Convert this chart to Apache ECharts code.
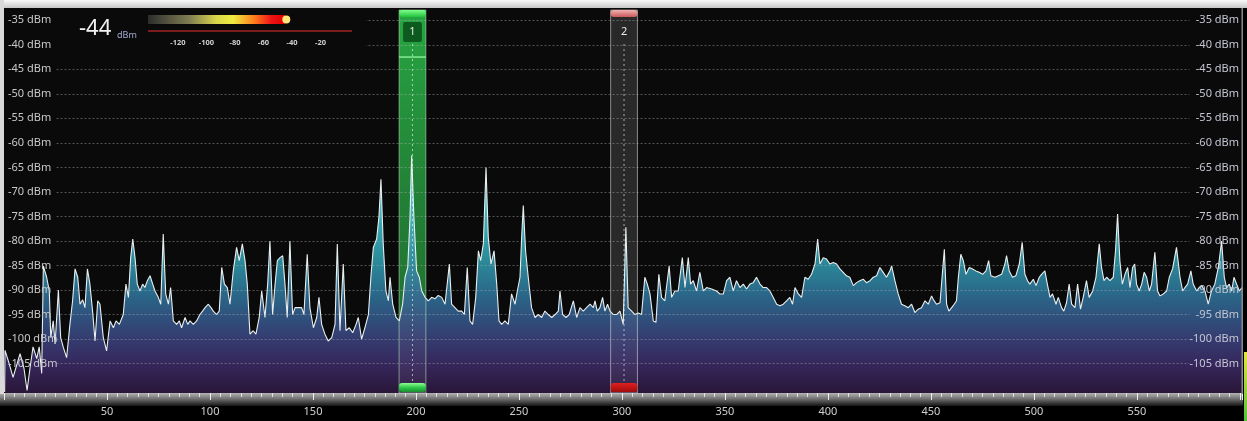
<!DOCTYPE html>
<html><head><meta charset="utf-8">
<script src="https://cdn.jsdelivr.net/npm/echarts@6/dist/echarts.min.js"></script>
<style>html,body{margin:0;padding:0;background:#000;overflow:hidden}#c{width:1247px;height:421px}</style>
</head><body><div id="c"></div>
<script>
// ---- data (frequency, level dBm) ----
const spectrumA = [[0.3,-110.8],[0.5,-102.3],[2.5,-105],[4.4,-107.8],[7.8,-103],[9.7,-106],[11.2,-110.5],[12.6,-106],[14.1,-101.6],[15.9,-104],[17.1,-101.6],[18.3,-107],[19.1,-85.1],[20.7,-87.4],[22.0,-90.2],[22.7,-99.7],[23.9,-96.3],[24.8,-101],[26.4,-90],[27.5,-99.7],[28.8,-101.7],[30.4,-103.8],[32.0,-97],[33.3,-92.2],[34.5,-85.7],[35.8,-87.4],[36.9,-92.9],[38.2,-92],[39.3,-93.6],[40.5,-85.7],[41.7,-88.8],[43.0,-94.3],[44.2,-100.4],[45.5,-92.2],[46.6,-92.9],[48.2,-99.7],[49.8,-102.4],[51.5,-96.3],[53.1,-97.7],[54.4,-96.3],[56.0,-97],[57.9,-95],[59.2,-88.8],[60.4,-91.5],[61.5,-83.4],[62.5,-79.6],[63.6,-83.4],[64.7,-88.8],[66.0,-90.2],[67.3,-88.8],[68.4,-89.5],[69.6,-88.1],[70.9,-87.1],[72.2,-88.8],[73.3,-90.2],[74.9,-91.5],[76.1,-92.9],[77.3,-78.6],[78.5,-90.8],[79.8,-92.9],[80.9,-89.5],[82.2,-96.3],[83.8,-97],[85.1,-96.3],[86.2,-97.7],[87.9,-95.6],[89.2,-97],[90.3,-96.3],[91.9,-97],[93.5,-96.3],[95.1,-95],[96.4,-94.3],[97.6,-93.6],[99.2,-92.9],[100.5,-93.6],[101.6,-94.3],[103.2,-95],[104.5,-94.3],[105.7,-85.4],[107.0,-88.8],[108.4,-89.5],[109.7,-92.9],[111.3,-86.1],[112.9,-81.3],[114.2,-84],[115.7,-80.6],[117.0,-84],[118.1,-88.8],[119.4,-99],[121.0,-98.3],[122.3,-99],[123.9,-95.6],[125.1,-90.2],[126.7,-95.6],[128.0,-88.8],[129.1,-80],[130.4,-95],[131.6,-88.8],[132.7,-84],[134.0,-83.4],[135.3,-83],[136.4,-88.8],[137.5,-95.6],[138.8,-80],[140.1,-95],[141.3,-93.6],[142.9,-93.6],[144.5,-93.6],[145.6,-95],[147.2,-82.7],[148.5,-93.6],[150.2,-97.7],[151.8,-95.6],[152.9,-91.5]];
const spectrumB = [[154.2,-97],[155.8,-99],[157.4,-100.4],[159.1,-99.7],[160.7,-97],[161.8,-80.6],[163.1,-98.3],[164.7,-84.7],[166.0,-98.3],[167.6,-97.7],[169.3,-98.7],[170.9,-97],[172.0,-95.6],[173.6,-100],[175.2,-97.7],[176.9,-95],[178.2,-86.8],[179.3,-81.3],[180.9,-79.6],[182.0,-75.2],[183.0,-67.4],[184.1,-80.6],[185.4,-90.2],[186.6,-92.2],[187.4,-87.4],[188.7,-92.9],[190.3,-95.6],[191.9,-96.3],[193.5,-92.9],[194.7,-87.4],[196.0,-85.4],[197.1,-75.2],[197.9,-62.6],[199.0,-75.2],[200.3,-86.1],[201.6,-87.4],[202.8,-90.2],[204.4,-91.5],[206.0,-92.2],[207.6,-91.5],[209.2,-91.8],[210.8,-91.1],[212.5,-91.5],[214.1,-92.9],[216.2,-84.7],[217.3,-92.9],[218.9,-93.6],[220.5,-94.3],[222.2,-94.3],[223.5,-95],[224.9,-85.4],[226.2,-96.3],[227.5,-97],[229.0,-91.5],[230.3,-82],[231.4,-84],[232.7,-80.6],[234.0,-65],[235.1,-79.3],[236.4,-84.7],[237.9,-82],[239.2,-88.8],[240.3,-96.3],[241.6,-97],[243.2,-96.3],[244.8,-97],[246.4,-90.8],[248.1,-92.9],[249.2,-90.2],[250.5,-87.4],[251.3,-79.3],[252.1,-72.8],[253.2,-82],[254.5,-87.4],[256.1,-93.6],[257.8,-95.6],[259.4,-95],[261.0,-95.6],[262.6,-94.3],[264.2,-95],[265.9,-95.6],[267.5,-95],[269.1,-94.3],[269.9,-90.2],[271.2,-95],[272.8,-95.6],[274.4,-95],[276.4,-92.2],[278.0,-95.6],[279.6,-93.6],[281.2,-94.3],[282.8,-93.6],[284.5,-92.9],[286.1,-93.6],[286.9,-92.2],[288.0,-94.3],[289.3,-93.6],[290.6,-91.5],[291.7,-94.3],[293.0,-92.9],[294.2,-94.3],[295.8,-95],[297.4,-95],[299.0,-94.3],[300.6,-97],[301.9,-77.2]];
const spectrumC = [[303.0,-93.6],[304.7,-94.3],[306.3,-95],[307.9,-94.7],[309.5,-95],[311.1,-87.4],[312.3,-88.8],[313.6,-90.8],[315.2,-96.3],[316.5,-96.6],[317.9,-86.8],[319.2,-91.5],[320.8,-92.2],[322.9,-85.1],[324.1,-91.5],[325.7,-90.2],[327.3,-90.2],[329.3,-83.4],[330.6,-89.5],[332.2,-83.4],[333.3,-88.8],[334.6,-88.1],[336.2,-90.2],[337.8,-86.4],[339.5,-90.2],[341.1,-89.5],[343.5,-89.8],[345.9,-90.2],[347.5,-90.8],[349.2,-90.8],[350.8,-88.1],[352.4,-87.4],[354.0,-90.2],[355.6,-88.1],[357.3,-89.5],[358.9,-88.8],[360.5,-89.8],[362.1,-88.8],[363.7,-88.5],[365.3,-87.4],[367.0,-88.8],[368.6,-89.5],[370.2,-89.5],[371.8,-90.2],[373.4,-91.5],[375.1,-92.9],[376.7,-93.2],[378.3,-92.9],[379.9,-92.2],[381.5,-91.5],[382.8,-92.9],[384.0,-89.5],[385.6,-90.8],[387.2,-91.5],[388.8,-87.4],[390.4,-87.8],[392.0,-86.8],[393.7,-84.7],[395.0,-79.6],[396.1,-84.7],[397.7,-83.4],[399.3,-83.7],[400.9,-84.7],[402.6,-84.4],[404.2,-84.7],[405.8,-85.7],[407.4,-86.4],[409.0,-87.1],[410.6,-87.4],[412.3,-89.1],[413.9,-88.5],[415.5,-88.1],[417.1,-87.8],[418.7,-88.5],[420.4,-88.1],[422.0,-87.4],[423.6,-87.1],[425.2,-85.4],[426.8,-86.4],[428.4,-87.4],[430.1,-86.1],[430.9,-85.1],[432.5,-88.1],[434.1,-90.8],[435.7,-92.9],[437.3,-93.2],[439.0,-93.6],[440.6,-92.9],[442.2,-94.6],[443.8,-93.9],[445.4,-93.6],[447.1,-92.2],[448.7,-92.9],[450.3,-91.2]];
const spectrumD = [[451.1,-91.9],[452.7,-92.9],[454.4,-92.6],[456.5,-81.7],[457.6,-92.9],[458.7,-94.3],[460.8,-93.2],[462.4,-92.2],[463.3,-87.4],[464.5,-82.7],[465.7,-84],[467.0,-86.8],[468.6,-85.4],[470.2,-85.7],[471.8,-86.1],[473.4,-86.4],[475.1,-86.8],[476.7,-86.1],[478.0,-84],[479.1,-87.1],[481.1,-87.4],[482.7,-87.1],[484.3,-86.8],[485.9,-84.7],[486.7,-83],[488.0,-86.1],[489.6,-87.4],[491.2,-87.1],[492.9,-84.7],[494.3,-80.3],[495.6,-86.8],[496.9,-88.1],[498.0,-88.8],[499.7,-87.8],[501.0,-89.1],[502.6,-87.4],[503.7,-86.8],[505.3,-86.1],[506.5,-88.8],[507.8,-91.5],[509.0,-90.8],[510.7,-92.9],[511.8,-91.5],[513.4,-93.6],[514.5,-94.3],[515.8,-92.6],[517.1,-88.8],[518.3,-92.9],[519.9,-93.6],[521.2,-88.8],[522.6,-93.9],[523.9,-91.5],[525.5,-88.1],[526.8,-91.5],[528.5,-90.2],[530.1,-87.4],[531.7,-80.6],[532.8,-85.4],[534.0,-88.1],[535.3,-87.4],[536.9,-88.1],[538.5,-87.4],[539.6,-82],[540.6,-74.5],[541.7,-84],[542.9,-88.8],[544.2,-86.8],[545.5,-85.4],[546.6,-89.5],[547.9,-85.4],[548.9,-84.7],[549.8,-88.8],[551.1,-90.2],[552.3,-88.8],[553.5,-86.4],[554.7,-87.4],[556.0,-90.2],[557.1,-88.8],[558.7,-82.3],[560.0,-90.2],[561.2,-91.2],[562.8,-90.8],[564.4,-90.2],[565.7,-87.4],[567.3,-85.7],[569.2,-81.3],[570.9,-87.4],[572.2,-90.2],[573.3,-89.5],[574.6,-88.8],[576.2,-86.1],[577.3,-88.8],[579.0,-90.2],[580.2,-89.5],[581.4,-89.1],[583.0,-90.2],[584.6,-92.9],[586.2,-90.2],[587.8,-88.8],[589.5,-85.4],[591.1,-80],[592.4,-87.4],[593.5,-89.5],[594.8,-88.8],[596.0,-90.2],[597.1,-87.4],[598.4,-88.8],[599.7,-90.2],[601.0,-89.5]];
const yTicks = [-35,-40,-45,-50,-55,-60,-65,-70,-75,-80,-85,-90,-95,-100,-105];
const xTicks = [50,100,150,200,250,300,350,400,450,500,550];
const markerCenters = [198.3, 301.0];
const markerNames = ['1','2'];
const markerRefLevel = -42.5;
const currentLevel = -44;
const legendTicks = [-120,-100,-80,-60,-40,-20];

// ---- layout / style ----
const X_MIN = 0, X_MAX = 601, Y_MIN = -111, Y_MAX = -32.5;
const MARKER_HALF = 6.5;
const spectrum = spectrumA.concat(spectrumB, spectrumC, spectrumD);
const FONT = '"Noto Sans", "Open Sans", sans-serif';
const lg = (x, y, x2, y2, stops, global) => ({type:'linear', x, y, x2, y2, global: !!global,
  colorStops: stops.map(s => ({offset: s[0], color: s[1]}))});

function markerBack(params, api) {
  const i = params.dataIndex, c = api.value(0);
  const tl = api.coord([c - MARKER_HALF, Y_MAX]);
  const br = api.coord([c + MARKER_HALF, Y_MIN]);
  const fill = i === 0 ? lg(0,0,0,1,[[0,'rgba(30,175,60,0.92)'],[0.5,'rgba(25,140,50,0.85)'],[1,'rgba(25,120,45,0.8)']])
                       : 'rgba(70,70,70,0.35)';
  return {type:'rect', shape:{x:tl[0], y:tl[1]+2, width:br[0]-tl[0], height:br[1]-tl[1]-2}, style:{fill}};
}
function markerFront(params, api) {
  const i = params.dataIndex, c = api.value(0);
  const tl = api.coord([c - MARKER_HALF, Y_MAX]);
  const br = api.coord([c + MARKER_HALF, Y_MIN]);
  const cx = (tl[0] + br[0]) / 2, w = br[0] - tl[0];
  const green = i === 0;
  const children = [
    {type:'rect', shape:{x:tl[0], y:tl[1]+2, width:w, height:br[1]-tl[1]-2},
     style:{fill:'rgba(255,255,255,0.05)', stroke: green ? 'rgba(190,235,190,0.55)' : 'rgba(215,215,215,0.6)', lineWidth:1}},
    {type:'line', shape:{x1:cx, y1:tl[1]+36, x2:cx, y2:br[1]-11},
     style:{stroke:'rgba(255,255,255,0.6)', lineWidth:1, lineDash:[2,3]}},
    {type:'rect', shape:{x:tl[0], y:tl[1]+2, width:w, height:7, r:3},
     style:{fill: green ? lg(0,0,0,1,[[0,'#7dff8a'],[1,'#22c23e']]) : lg(0,0,0,1,[[0,'#f2b0b0'],[1,'#c85a5a']])}},
    {type:'rect', shape:{x:tl[0], y:br[1]-10, width:w, height:9, r:3},
     style:{fill: green ? lg(0,0,0,1,[[0,'#8dff95'],[0.5,'#2fc84a'],[1,'#1a8f30']]) : lg(0,0,0,1,[[0,'#e02020'],[1,'#a00c0c']])}},
    {type:'rect', shape:{x:tl[0]+4, y:tl[1]+14, width:w-8, height:20, r:2},
     style:{fill: green ? '#0d5a1e' : 'rgba(40,40,40,0.6)'}},
    {type:'text', x:cx, y:tl[1]+24, style:{text: markerNames[i], fill:'#e8e8e8', font:'11px ' + FONT, align:'center', verticalAlign:'middle'}}
  ];
  if (green) {
    const ry = api.coord([c, markerRefLevel])[1];
    children.push({type:'line', shape:{x1:tl[0], y1:ry, x2:br[0], y2:ry}, style:{stroke:'#9dffa8', lineWidth:1.2}});
  }
  return {type:'group', children};
}

const chart = echarts.init(document.getElementById('c'), null, {renderer:'canvas', width:1247, height:421});
const legendX = v => 178 + (v + 120) * 1.425;

chart.setOption({
  backgroundColor: '#000',
  animation: false,
  grid: {left:4, right:5, top:8, bottom:28, show:true, backgroundColor:'#0a0a0a', borderWidth:0},
  xAxis: {
    type:'value', min:X_MIN, max:X_MAX, interval:50, z:6,
    axisLine:{show:false}, splitLine:{show:false},
    axisTick:{show:true, length:7, lineStyle:{color:'rgba(255,255,255,0.85)', width:1}},
    minorTick:{show:true, splitNumber:10, length:4, lineStyle:{color:'rgba(255,255,255,0.7)', width:1}},
    axisLabel:{margin:13, color:'#cfcfcf', fontSize:11, fontFamily:FONT,
      formatter: v => xTicks.includes(v) ? String(v) : ''}
  },
  yAxis: [
    {type:'value', min:Y_MIN, max:Y_MAX, position:'left', z:4,
     axisLine:{show:false}, axisTick:{show:false}, splitLine:{show:false},
     axisLabel:{inside:true, margin:4, color:'#c8c8c8', fontSize:11, fontFamily:FONT,
       customValues: yTicks, formatter: v => v + ' dBm'}},
    {type:'value', min:Y_MIN, max:Y_MAX, position:'right', z:4,
     axisLine:{show:false}, axisTick:{show:false}, splitLine:{show:false},
     axisLabel:{inside:true, margin:3, color:'#c4c6d2', fontSize:11, fontFamily:FONT,
       customValues: yTicks, formatter: v => v + ' dBm'}}
  ],
  series: [
    {type:'custom', coordinateSystem:'cartesian2d', z:1, silent:true, renderItem: markerBack,
     data: markerCenters.map(c => [c, Y_MIN])},
    {type:'line', data: spectrum, showSymbol:false, symbol:'none', z:2, silent:true,
     lineStyle:{color:'#e9eef0', width:1.1},
     areaStyle:{origin:'start', opacity:1,
       color: lg(0,200,0,393,[[0,'#3fbcc4'],[0.3,'#2b8d9a'],[0.5,'#2a6588'],[0.7,'#343f72'],[0.85,'#36275c'],[1,'#2a1638']], true)},
     markLine:{silent:true, symbol:'none', label:{show:false}, animation:false,
       lineStyle:{color:'rgba(185,185,185,0.42)', type:[2,2], width:1},
       emphasis:{disabled:true},
       data: yTicks.map(v => [{coord:[25.5, v]}, {coord:[575.5, v]}])}},
    {type:'custom', coordinateSystem:'cartesian2d', z:3, silent:true, renderItem: markerFront,
     data: markerCenters.map(c => [c, Y_MIN])}
  ],
  graphic: [
    {type:'rect', z:1, shape:{x:0, y:393, width:1243, height:13}, style:{fill: lg(0,0,0,1,[[0,'#b4b4b4'],[0.45,'#707070'],[1,'#141414']])}},
    {type:'rect', z:10, shape:{x:0, y:0, width:1247, height:8}, style:{fill: lg(0,0,0,1,[[0,'#fafafa'],[1,'#c8c8c8']])}},
    {type:'rect', z:10, shape:{x:0, y:0, width:4, height:394}, style:{fill:'#d9d9d9'}},
    {type:'rect', z:10, shape:{x:1241.5, y:8, width:1.5, height:386}, style:{fill:'#8a8a8a'}},
    {type:'rect', z:10, shape:{x:1244, y:352, width:3, height:69}, style:{fill: lg(0,0,0,1,[[0,'#e6e63c'],[1,'#56c23a']])}},
    {type:'rect', z:9, shape:{x:56, y:8, width:310, height:44}, style:{fill:'#0a0a0a'}},
    {type:'text', z:11, x:79, y:18, style:{text:String(currentLevel), fill:'#f2f2f2', font:'22px ' + FONT}},
    {type:'text', z:11, x:117, y:31, style:{text:'dBm', fill:'#a2acd0', font:'9px ' + FONT}},
    {type:'rect', z:11, shape:{x:148, y:15, width:137, height:9},
     style:{fill: lg(0,0,1,0,[[0,'#2c2c2c'],[0.3,'#7f7d52'],[0.5,'#d9d64a'],[0.62,'#f0ec40'],[0.78,'#ff7a1c'],[0.9,'#ee1414'],[1,'#e00000']])}},
    {type:'circle', z:12, shape:{cx:legendX(currentLevel), cy:19.5, r:4}, style:{fill:'#ffe57a'}},
    {type:'line', z:11, shape:{x1:148, y1:31, x2:352, y2:31}, style:{stroke:'#7c1d1d', lineWidth:2}}
  ].concat(legendTicks.map(v => ({type:'text', z:11, x:legendX(v), y:43,
     style:{text:String(v), fill:'#cfcfcf', font:'bold 7.5px ' + FONT, align:'center', verticalAlign:'middle'}})))
});
</script>
</body></html>
